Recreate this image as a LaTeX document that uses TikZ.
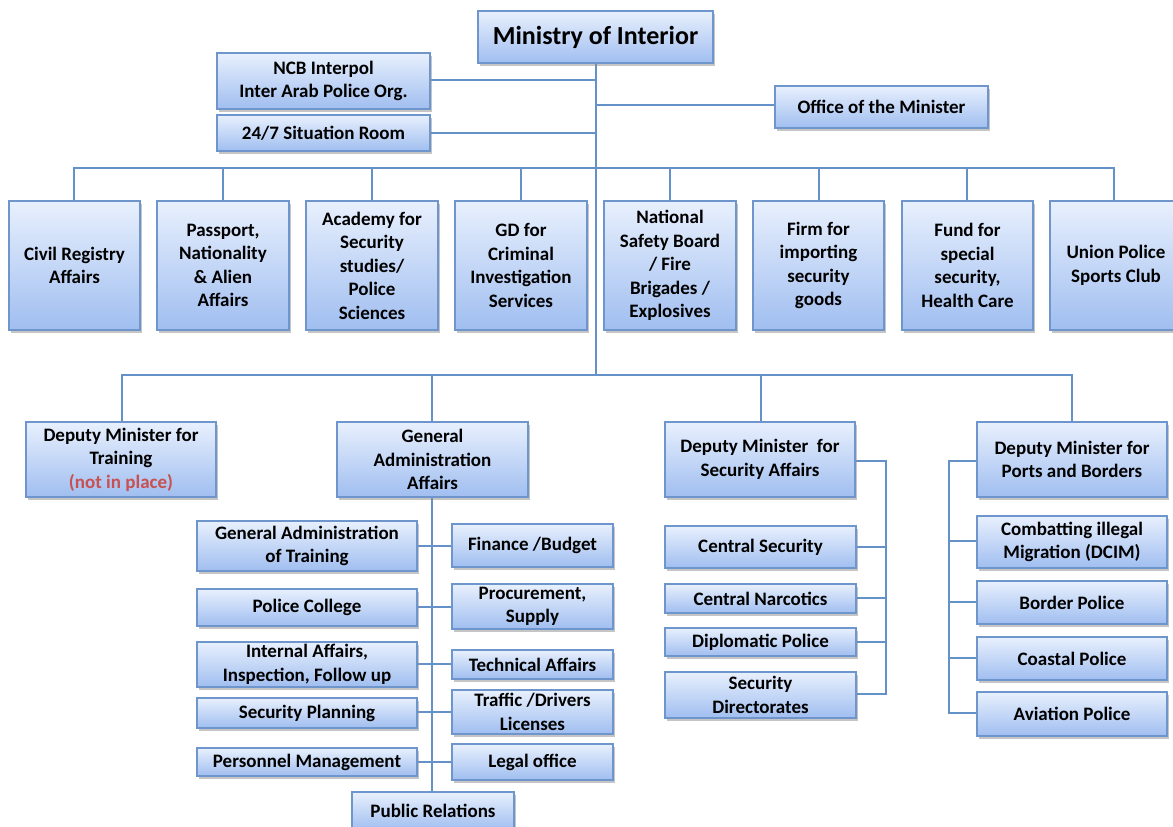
\documentclass[tikz,border=0pt]{standalone}
\usepackage{fontspec}
\setmainfont{Carlito}
\usetikzlibrary{shadows}
\definecolor{bordc}{RGB}{110,150,205}
\definecolor{linec}{RGB}{100,145,200}
\definecolor{topc}{RGB}{232,240,253}
\definecolor{botc}{RGB}{160,190,240}
\definecolor{redt}{RGB}{200,80,80}
\tikzset{
  box/.style={draw=bordc, line width=1.1pt, top color=topc, bottom color=botc,
    drop shadow={shadow xshift=2pt, shadow yshift=-2.5pt, fill=black!45, opacity=0.5},
    align=center, inner sep=1pt, font=\bfseries\fontsize{19}{23.5}\selectfont},
  conn/.style={draw=linec, line width=1.3pt}
}
\newcommand{\bx}[6]{\node[box, minimum width={(#4-#2)*1pt}, minimum height={(#5-#3)*1pt}] (#1) at ({(#2+#4)/2},{(#3+#5)/2}) {#6};}
\begin{document}
\begin{tikzpicture}[x=1pt,y=-1pt]
\useasboundingbox (0,0) rectangle (1173,827);
% connectors first
\draw[conn] (596,63) -- (596,375);
\draw[conn] (430,80) -- (596,80);
\draw[conn] (430,133) -- (596,133);
\draw[conn] (596,105) -- (775,105);
\draw[conn] (74,201) -- (74,168) -- (1114,168) -- (1114,201);
\foreach \x in {223,372,521,670,819,967} \draw[conn] (\x,168) -- (\x,201);
\draw[conn] (122,422) -- (122,375) -- (1072,375) -- (1072,422);
\draw[conn] (432,375) -- (432,422);
\draw[conn] (761,375) -- (761,422);
% GA trunk
\draw[conn] (432,497) -- (432,792);
\foreach \y in {546,607,664,712,762} \draw[conn] (417,\y) -- (452,\y);
% security
\draw[conn] (855,461) -- (886,461) -- (886,694) -- (856,694);
\foreach \y in {547,598,642} \draw[conn] (856,\y) -- (886,\y);
% ports
\draw[conn] (977,461) -- (949,461) -- (949,713) -- (977,713);
\foreach \y in {541,602,658} \draw[conn] (949,\y) -- (977,\y);
% boxes
\bx{moi}{478}{11}{713}{63}{\fontsize{26}{30}\selectfont Ministry of Interior}
\bx{ncb}{217}{53}{430}{109}{NCB Interpol\\Inter Arab Police Org.}
\bx{sit}{217}{115}{430}{151}{24/7 Situation Room}
\bx{off}{775}{86}{988}{128}{Office of the Minister}
\bx{r1}{9}{201}{140}{330}{Civil Registry\\Affairs}
\bx{r2}{157}{201}{289}{330}{Passport,\\Nationality\\\& Alien\\Affairs}
\bx{r3}{306}{201}{438}{330}{Academy for\\Security\\studies/\\Police\\Sciences}
\bx{r4}{455}{201}{587}{330}{GD for\\Criminal\\Investigation\\Services}
\bx{r5}{604}{201}{736}{330}{National\\Safety Board\\/ Fire\\Brigades /\\Explosives}
\bx{r6}{753}{201}{884}{330}{Firm for\\importing\\security\\goods}
\bx{r7}{902}{201}{1033}{330}{Fund for\\special\\security,\\Health Care}
\bx{r8}{1050}{201}{1182}{330}{Union Police\\Sports Club}
\bx{dtr}{26}{422}{216}{497}{Deputy Minister for\\Training\\{\color{redt}(not in place)}}
\bx{gaa}{337}{422}{528}{497}{General\\Administration\\Affairs}
\bx{dsa}{665}{422}{855}{497}{Deputy Minister\ \ for\\Security Affairs}
\bx{dpb}{977}{422}{1167}{497}{Deputy Minister for\\Ports and Borders}
% GA children
\bx{g1}{197}{521}{417}{571}{General Administration\\of Training}
\bx{g2}{197}{589}{417}{626}{Police College}
\bx{g3}{197}{642}{417}{687}{Internal Affairs,\\Inspection, Follow up}
\bx{g4}{197}{698}{417}{728}{Security Planning}
\bx{g5}{197}{748}{417}{776}{Personnel Management}
\bx{h1}{452}{524}{613}{567}{Finance /Budget}
\bx{h2}{452}{584}{613}{629}{Procurement,\\Supply}
\bx{h3}{452}{650}{613}{679}{Technical Affairs}
\bx{h4}{452}{690}{613}{734}{Traffic /Drivers\\Licenses}
\bx{h5}{452}{744}{613}{780}{Legal office}
\bx{pr}{352}{792}{514}{830}{Public Relations}
% Security children
\bx{s1}{665}{526}{856}{568}{Central Security}
\bx{s2}{665}{584}{856}{613}{Central Narcotics}
\bx{s3}{665}{628}{856}{656}{Diplomatic Police}
\bx{s4}{665}{672}{856}{718}{Security\\Directorates}
% Ports children
\bx{p1}{977}{516}{1167}{568}{Combatting illegal\\Migration (DCIM)}
\bx{p2}{977}{581}{1167}{624}{Border Police}
\bx{p3}{977}{637}{1167}{680}{Coastal Police}
\bx{p4}{977}{692}{1167}{736}{Aviation Police}
\end{tikzpicture}
\end{document}
